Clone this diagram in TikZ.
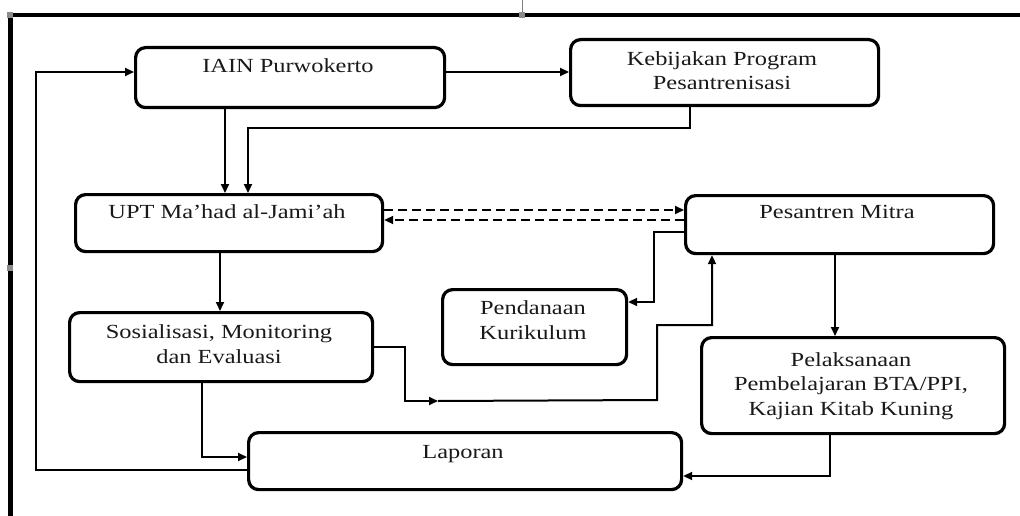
\documentclass[tikz,border=0pt]{standalone}
\usepackage{fontspec}
\setmainfont{Liberation Serif}[FakeStretch=1.22]
\usetikzlibrary{arrows.meta}
\begin{document}
\begin{tikzpicture}[x=1pt,y=-1pt,
  box/.style={draw=black,line width=3.2pt,rounded corners=10pt,anchor=north west,inner sep=0pt},
  txt/.style={font=\fontsize{20}{24.5}\selectfont,align=center,anchor=base,inner sep=0pt,text=black!90},
  arr/.style={line width=2pt,-{Triangle[length=9pt,width=8pt]}},
  handle/.style={fill=black!45,draw=none,minimum size=6pt,inner sep=0pt}]
\useasboundingbox (0,0) rectangle (1020,516);
% frame
\draw[line width=4.5pt] (8,15) -- (1020,15);
\draw[line width=5pt] (10,15) -- (10,516);
\draw[black!50,line width=0.8pt] (522,0) -- (522,12);
\node[handle] (h1) at (10,15) {};
\node[handle] (h2) at (522,15) {};
\node[handle] (h3) at (10,268) {};
% boxes
\node[box,minimum width=309pt,minimum height=60pt] (iain) at (134,46) {};
\node[box,minimum width=308pt,minimum height=66pt] (keb) at (569,38) {};
\node[box,minimum width=307pt,minimum height=57pt] (upt) at (74,193) {};
\node[box,minimum width=308pt,minimum height=58pt] (mitra) at (684,194) {};
\node[box,minimum width=184pt,minimum height=75pt] (pend) at (441,288) {};
\node[box,minimum width=303pt,minimum height=69pt] (sos) at (68,311) {};
\node[box,minimum width=303pt,minimum height=96pt] (pel) at (700,336) {};
\node[box,minimum width=433pt,minimum height=57pt] (lap) at (247,431) {};
% texts (base anchor = last line baseline)
\node[txt] (iainT) at (288,73) {IAIN Purwokerto};
\node[txt] (kebT) at (722,90) {Kebijakan Program\\Pesantrenisasi};
\node[txt] (uptT) at (227,218) {UPT Ma’had al-Jami’ah};
\node[txt] (mitraT) at (837,218) {Pesantren Mitra};
\node[txt] (pendT) at (533,339) {Pendanaan\\Kurikulum};
\node[txt] (sosT) at (219,363) {Sosialisasi, Monitoring\\dan Evaluasi};
\node[txt] (pelT) at (851,415) {Pelaksanaan\\Pembelajaran BTA/PPI,\\Kajian Kitab Kuning};
\node[txt] (lapT) at (463,458) {Laporan};
% connectors
\draw[arr] (iain.east |- 0,72) -- (keb.west |- 0,72);
\draw[arr] (iain.south -| 225,0) -- (upt.north -| 225,0);
\draw[arr] (keb.south -| 690,0) |- (248,128) -- (upt.north -| 248,0);
\draw[arr,dash pattern=on 9pt off 5pt] (upt.east |- 0,210) -- (mitra.west |- 0,210);
\draw[arr,dash pattern=on 9pt off 5pt] (mitra.west |- 0,220) -- (upt.east |- 0,220);
\draw[arr] (upt.south -| 220,0) -- (sos.north -| 220,0);
\draw[arr] (mitra.west |- 0,232) -| (654,302) -- (pend.east |- 0,302);
\coordinate (mid) at (438,401);
\draw[arr] (sos.east |- 0,347) -| (405,401) -- (mid);
\draw[arr] (mid) -- (657,400) |- (712,325) -- (mitra.south -| 712,0);
\draw[arr] (mitra.south -| 835,0) -- (pel.north -| 835,0);
\draw[arr] (sos.south -| 202,0) |- (lap.west |- 0,457);
\draw[arr] (lap.west |- 0,470) -| (36,72) -- (iain.west |- 0,72);
\draw[arr] (pel.south -| 830,0) |- (lap.east |- 0,476);
\end{tikzpicture}
\end{document}
